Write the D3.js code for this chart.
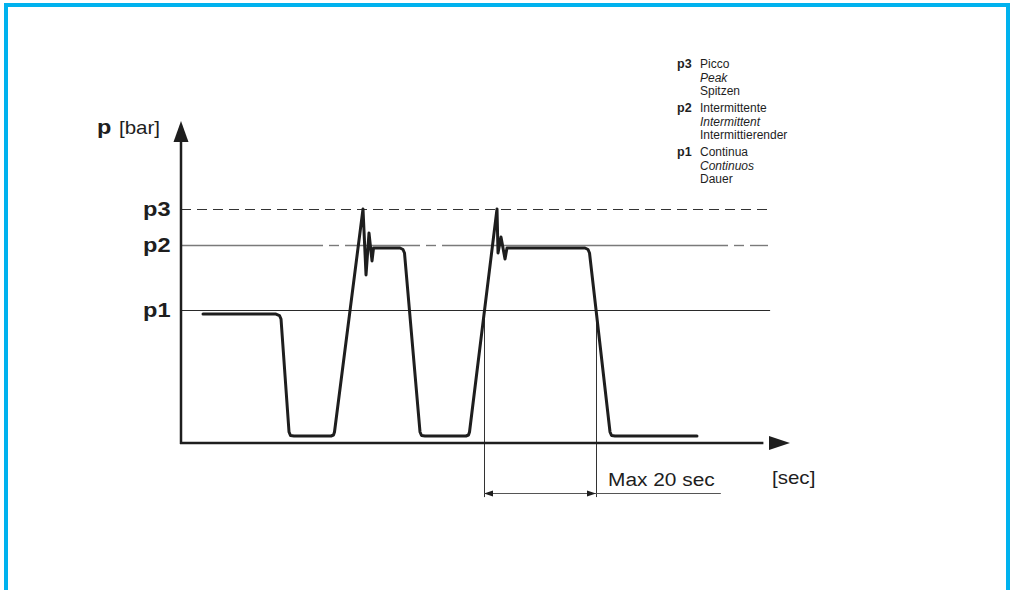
<!DOCTYPE html>
<html>
<head>
<meta charset="utf-8">
<script src="https://cdn.jsdelivr.net/npm/d3@7"></script>
<style>
  html, body { margin: 0; padding: 0; background: #fff; }
  svg { display: block; }
  text { font-family: "Liberation Sans", Arial, Helvetica, sans-serif; }
</style>
</head>
<body>
<svg id="chart" width="1013" height="590"></svg>
<script>
// ---------- data ----------
// pressure trace (time in seconds, pressure in relative units 0..100)
const traceT = [3.93, 16.96, 17.59, 17.86, 19.29, 19.55, 20.18, 26.79, 27.23, 27.41,
  32.5, 33.04, 33.57, 34.11, 34.38, 39.11, 39.64, 39.91, 42.68, 42.95, 43.57,
  50.89, 51.34, 51.52, 56.43, 56.61, 57.14, 57.86, 58.21, 72.14, 72.68, 72.95,
  76.61, 76.88, 77.5, 92.14];
const traceP = [40.31, 40.31, 39.84, 38.75, 3.44, 2.34, 2.19, 2.19, 2.5, 3.44,
  73.13, 52.5, 65.63, 56.9, 60.94, 60.94, 60.47, 59.38, 3.44, 2.34, 2.19,
  2.19, 2.5, 3.44, 73.13, 59.4, 64.38, 57.5, 60.94, 60.94, 60.47, 59.38,
  3.44, 2.34, 2.19, 2.19];

// reference pressure levels
const levelNames = ["p3", "p2", "p1"];
const levelValues = [73.13, 61.88, 41.56];
// p2 line drawn as dash-dot segments [start, end] in seconds
const p2Segments = [[0, 25.36], [26.43, 28.21], [29.29, 42.68], [43.75, 45.54],
  [46.61, 97.68], [98.75, 100.54], [101.61, 104.82]];
const levelEnd = 104.8;

// duration marker
const durStart = 54.11, durEnd = 74.11, durLabel = "Max 20 sec";
const durUnderlineEnd = 96.4;

// legend
const legendKeys = ["p3", "p2", "p1"];
const legendIt = [["Picco", "Peak", "Spitzen"],
                  ["Intermittente", "Intermittent", "Intermittierender"],
                  ["Continua", "Continuos", "Dauer"]];

// axes
const xMax = 108.75, yMax = 100.6;
const yLabelBold = "p", yLabelUnit = "[bar]", xLabelUnit = "[sec]";

// ---------- drawing ----------
const svg = d3.select("#chart");
const x = d3.scaleLinear().domain([0, 108.75]).range([181, 790]);
const y = d3.scaleLinear().domain([0, 100]).range([443, 123]);
const crisp = v => Math.round(v) + 0.5;

// frame
svg.append("rect").attr("x", 6).attr("y", 5).attr("width", 1002).attr("height", 700)
  .attr("fill", "none").attr("stroke", "#00b2ee").attr("stroke-width", 4);

const ink = "#1e1e1e";

// reference lines
svg.append("line").attr("x1", x(0)).attr("x2", x(levelEnd))
  .attr("y1", crisp(y(levelValues[0]))).attr("y2", crisp(y(levelValues[0])))
  .attr("stroke", "#333").attr("stroke-width", 1).attr("stroke-dasharray", "10,6");
svg.selectAll("line.p2").data(p2Segments).join("line").attr("class", "p2")
  .attr("x1", d => x(d[0])).attr("x2", d => x(d[1]))
  .attr("y1", crisp(y(levelValues[1]))).attr("y2", crisp(y(levelValues[1])))
  .attr("stroke", "#7a7a7a").attr("stroke-width", 1.4);
svg.append("line").attr("x1", x(0)).attr("x2", x(levelEnd + 0.4))
  .attr("y1", crisp(y(levelValues[2]))).attr("y2", crisp(y(levelValues[2])))
  .attr("stroke", "#2a2a2a").attr("stroke-width", 1);

// helper: horizontally stretched text anchored at left x
function wideText(sel, px, py, sx) {
  return sel.append("text").attr("transform", `translate(${px},${py}) scale(${sx},1)`)
    .attr("x", 0).attr("y", 0).attr("fill", ink);
}

// level labels
levelNames.forEach((n, i) => {
  wideText(svg, 143, y(levelValues[i]) + 7, 1.18)
    .attr("font-size", 20).attr("font-weight", "bold").text(n);
});

// duration verticals
[durStart, durEnd].forEach(t => {
  svg.append("line").attr("x1", crisp(x(t))).attr("x2", crisp(x(t)))
    .attr("y1", y(levelValues[2])).attr("y2", y(-16.9))
    .attr("stroke", "#333").attr("stroke-width", 1);
});
svg.append("line").attr("x1", x(durStart)).attr("x2", x(durUnderlineEnd))
  .attr("y1", crisp(y(-15.6))).attr("y2", crisp(y(-15.6))).attr("stroke", "#555").attr("stroke-width", 1);
// arrowheads
const ay = crisp(y(-15.6));
svg.append("path").attr("d", `M${x(durStart)},${ay} l9,-3 l0,6 Z`).attr("fill", ink);
svg.append("path").attr("d", `M${x(durEnd)},${ay} l-9,-3 l0,6 Z`).attr("fill", ink);
wideText(svg, 608, 486, 1.16).attr("font-size", 18).text(durLabel);

// axes
svg.append("line").attr("x1", x(0)).attr("x2", x(0)).attr("y1", y(0) + 1).attr("y2", y(95))
  .attr("stroke", ink).attr("stroke-width", 2.5);
svg.append("path").attr("d", `M${x(0)},${y(yMax)} l-7.5,21 l15,0 Z`).attr("fill", ink);
svg.append("line").attr("x1", x(0) - 1).attr("x2", x(104)).attr("y1", y(0)).attr("y2", y(0))
  .attr("stroke", ink).attr("stroke-width", 2.5);
svg.append("path").attr("d", `M${x(xMax)},${y(0)} l-21,-7 l0,14 Z`).attr("fill", ink);

// axis labels
wideText(svg, 97, 134, 1.12).attr("font-size", 21).attr("font-weight", "bold").text(yLabelBold);
wideText(svg, 119, 134, 1.14).attr("font-size", 18).text(yLabelUnit);
wideText(svg, 772, 484, 1.14).attr("font-size", 18).text(xLabelUnit);

// trace
const lineGen = d3.line().x(d => x(d[0])).y(d => y(d[1]));
svg.append("path").datum(traceT.map((t, i) => [t, traceP[i]]))
  .attr("d", lineGen).attr("fill", "none").attr("stroke", ink)
  .attr("stroke-width", 3).attr("stroke-linejoin", "round").attr("stroke-linecap", "round");

// legend
const lg = svg.append("g").attr("fill", ink);
let ly = 68;
legendKeys.forEach((k, i) => {
  lg.append("text").attr("x", 677).attr("y", ly).attr("font-size", 12.5)
    .attr("font-weight", "bold").text(k);
  legendIt[i].forEach((s, j) => {
    lg.append("text").attr("x", 700).attr("y", ly + j * 13.5).attr("font-size", 12)
      .attr("font-style", j === 1 ? "italic" : "normal").text(s);
  });
  ly += 44;
});
</script>
</body>
</html>
